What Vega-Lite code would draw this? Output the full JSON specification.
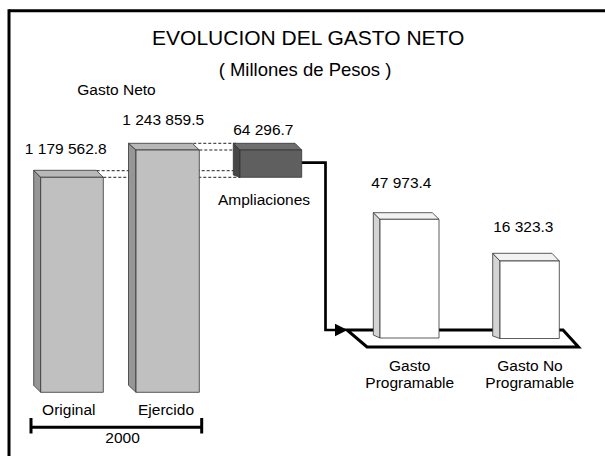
{
  "$schema": "https://vega.github.io/schema/vega-lite/v6.json",
  "width": 605,
  "height": 456,
  "padding": 0,
  "autosize": {"type": "none"},
  "background": "white",
  "config": {"view": {"stroke": null}, "font": "Liberation Sans", "text": {"font": "Liberation Sans"}},
  "resolve": {"scale": {"fill": "independent"}},
  "datasets": {
    "marco": [
      {"x": 9, "y": 10.8, "x2": 605, "y2": 10.8},
      {"x": 9, "y": 9.3, "x2": 9, "y2": 456}
    ],
    "guias": [
      {"x": 193.3, "x2": 236, "y": 143.3, "y2": 143.3},
      {"x": 199.3, "x2": 238, "y": 150, "y2": 150},
      {"x": 96.7, "x2": 236, "y": 170.7, "y2": 170.7},
      {"x": 103.3, "x2": 240, "y": 177.3, "y2": 177.3}
    ],
    "plataforma": [
      {"o": 1, "x": 347, "y": 330},
      {"o": 2, "x": 563, "y": 330},
      {"o": 3, "x": 578.5, "y": 347},
      {"o": 4, "x": 367, "y": 347},
      {"o": 5, "x": 347, "y": 330},
      {"o": 6, "x": 360, "y": 330}
    ],
    "conector": [
      {"o": 1, "x": 301.7, "y": 162.7},
      {"o": 2, "x": 325.5, "y": 162.7},
      {"o": 3, "x": 325.5, "y": 330},
      {"o": 4, "x": 338, "y": 330}
    ],
    "flecha": [
      {"x": 335, "y": 323.7, "y2": 336.3},
      {"x": 347.5, "y": 330, "y2": 330}
    ],
    "lados": [
      {"id": "Original", "tipo": "neto", "x": 33.7, "y": 170.3, "y2": 385.3},
      {"id": "Original", "tipo": "neto", "x": 40.7, "y": 177.3, "y2": 392.3},
      {"id": "Ejercido", "tipo": "neto", "x": 128.5, "y": 143.3, "y2": 385.3},
      {"id": "Ejercido", "tipo": "neto", "x": 136, "y": 150, "y2": 392.3},
      {"id": "Ampliaciones", "tipo": "ampl", "x": 233.3, "y": 143.3, "y2": 175},
      {"id": "Ampliaciones", "tipo": "ampl", "x": 240, "y": 150, "y2": 177.3},
      {"id": "Gasto Programable", "tipo": "comp", "x": 373.3, "y": 212.7, "y2": 335},
      {"id": "Gasto Programable", "tipo": "comp", "x": 380, "y": 219.3, "y2": 338},
      {"id": "Gasto No Programable", "tipo": "comp", "x": 492.7, "y": 253.3, "y2": 336},
      {"id": "Gasto No Programable", "tipo": "comp", "x": 500, "y": 261, "y2": 338.5}
    ],
    "tapas": [
      {"id": "Original", "tipo": "neto", "y": 170.3, "x": 33.7, "x2": 96.3},
      {"id": "Original", "tipo": "neto", "y": 177.3, "x": 40.7, "x2": 103.3},
      {"id": "Ejercido", "tipo": "neto", "y": 143.3, "x": 128.5, "x2": 192.3},
      {"id": "Ejercido", "tipo": "neto", "y": 150, "x": 136, "x2": 199.3},
      {"id": "Ampliaciones", "tipo": "ampl", "y": 143.3, "x": 233.3, "x2": 295},
      {"id": "Ampliaciones", "tipo": "ampl", "y": 150, "x": 240, "x2": 301.7},
      {"id": "Gasto Programable", "tipo": "comp", "y": 212.7, "x": 373.3, "x2": 432.3},
      {"id": "Gasto Programable", "tipo": "comp", "y": 219.3, "x": 380, "x2": 439},
      {"id": "Gasto No Programable", "tipo": "comp", "y": 253.3, "x": 492.7, "x2": 552},
      {"id": "Gasto No Programable", "tipo": "comp", "y": 261, "x": 500, "x2": 559.3}
    ],
    "frentes": [
      {"id": "Original", "tipo": "neto", "valor": 1179562.8, "x": 40.7, "x2": 103.3, "y": 177.3, "y2": 392.3},
      {"id": "Ejercido", "tipo": "neto", "valor": 1243859.5, "x": 136, "x2": 199.3, "y": 150, "y2": 392.3},
      {"id": "Ampliaciones", "tipo": "ampl", "valor": 64296.7, "x": 240, "x2": 301.7, "y": 150, "y2": 177.3},
      {"id": "Gasto Programable", "tipo": "comp", "valor": 47973.4, "x": 380, "x2": 439, "y": 219.3, "y2": 338},
      {"id": "Gasto No Programable", "tipo": "comp", "valor": 16323.3, "x": 500, "x2": 559.3, "y": 261, "y2": 338.5}
    ],
    "llave": [
      {"x": 31, "x2": 201.7, "y": 427.3, "y2": 427.3},
      {"x": 31, "x2": 31, "y": 418, "y2": 433.5},
      {"x": 201.7, "x2": 201.7, "y": 418, "y2": 433.5}
    ],
    "titulo": [{"t": "EVOLUCION DEL GASTO NETO", "x": 308.2, "y": 45}],
    "subtitulo": [{"t": "( Millones de Pesos )", "x": 305, "y": 76}],
    "etiquetas": [
      {"t": "Gasto Neto", "x": 116.5, "y": 95},
      {"t": "1 243 859.5", "x": 163.2, "y": 125},
      {"t": "64 296.7", "x": 263.3, "y": 135},
      {"t": "1 179 562.8", "x": 65.8, "y": 154},
      {"t": "47 973.4", "x": 401.3, "y": 188.3},
      {"t": "16 323.3", "x": 523.3, "y": 232.3},
      {"t": "Ampliaciones", "x": 264, "y": 205},
      {"t": "Original", "x": 68.8, "y": 415},
      {"t": "Ejercido", "x": 166, "y": 415},
      {"t": "2000", "x": 122.5, "y": 443.3},
      {"t": "Gasto", "x": 409.7, "y": 370.7},
      {"t": "Programable", "x": 409.7, "y": 388.3},
      {"t": "Gasto No", "x": 530, "y": 370.7},
      {"t": "Programable", "x": 529.7, "y": 388.3}
    ]
  },
  "layer": [
    {
      "data": {"name": "marco"},
      "mark": {"type": "rule", "color": "black", "strokeWidth": 3},
      "encoding": {
        "x": {"field": "x", "type": "quantitative", "scale": {"domain": [0, 605], "nice": false, "zero": false}, "axis": null},
        "y": {"field": "y", "type": "quantitative", "scale": {"domain": [0, 456], "nice": false, "zero": false, "reverse": true}, "axis": null},
        "x2": {"field": "x2"},
        "y2": {"field": "y2"}
      }
    },
    {
      "data": {"name": "guias"},
      "mark": {"type": "rule", "color": "#222222", "strokeWidth": 1, "strokeDash": [3, 2]},
      "encoding": {
        "x": {"field": "x", "type": "quantitative", "axis": null},
        "y": {"field": "y", "type": "quantitative", "axis": null},
        "x2": {"field": "x2"},
        "y2": {"field": "y2"}
      }
    },
    {
      "data": {"name": "plataforma"},
      "mark": {"type": "line", "color": "black", "strokeWidth": 3, "strokeJoin": "miter"},
      "encoding": {
        "x": {"field": "x", "type": "quantitative", "axis": null},
        "y": {"field": "y", "type": "quantitative", "axis": null},
        "order": {"field": "o", "type": "quantitative"}
      }
    },
    {
      "data": {"name": "conector"},
      "mark": {"type": "line", "color": "black", "strokeWidth": 2.7, "strokeJoin": "miter"},
      "encoding": {
        "x": {"field": "x", "type": "quantitative", "axis": null},
        "y": {"field": "y", "type": "quantitative", "axis": null},
        "order": {"field": "o", "type": "quantitative"}
      }
    },
    {
      "data": {"name": "flecha"},
      "mark": {"type": "area", "orient": "vertical", "color": "black"},
      "encoding": {
        "x": {"field": "x", "type": "quantitative", "axis": null},
        "y": {"field": "y", "type": "quantitative", "axis": null},
        "y2": {"field": "y2"}
      }
    },
    {
      "data": {"name": "lados"},
      "mark": {"type": "area", "orient": "vertical", "stroke": "#333333", "strokeWidth": 0.8, "fillOpacity": 1},
      "encoding": {
        "x": {"field": "x", "type": "quantitative", "axis": null},
        "y": {"field": "y", "type": "quantitative", "axis": null},
        "y2": {"field": "y2"},
        "detail": {"field": "id"},
        "fill": {"field": "tipo", "type": "nominal", "scale": {"domain": ["neto", "ampl", "comp"], "range": ["#969696", "#474747", "#d4d4d4"]}, "legend": null}
      }
    },
    {
      "data": {"name": "tapas"},
      "mark": {"type": "area", "orient": "horizontal", "stroke": "#333333", "strokeWidth": 0.8, "fillOpacity": 1},
      "encoding": {
        "y": {"field": "y", "type": "quantitative", "axis": null},
        "x": {"field": "x", "type": "quantitative", "axis": null},
        "x2": {"field": "x2"},
        "detail": {"field": "id"},
        "fill": {"field": "tipo", "type": "nominal", "scale": {"domain": ["neto", "ampl", "comp"], "range": ["#b8b8b8", "#6e6e6e", "#f2f2f2"]}, "legend": null}
      }
    },
    {
      "data": {"name": "frentes"},
      "mark": {"type": "rect", "stroke": "#333333", "strokeWidth": 0.8},
      "encoding": {
        "x": {"field": "x", "type": "quantitative", "axis": null},
        "x2": {"field": "x2"},
        "y": {"field": "y", "type": "quantitative", "axis": null},
        "y2": {"field": "y2"},
        "fill": {"field": "tipo", "type": "nominal", "scale": {"domain": ["neto", "ampl", "comp"], "range": ["#c0c0c0", "#5f5f5f", "#ffffff"]}, "legend": null},
        "tooltip": [{"field": "id"}, {"field": "valor", "type": "quantitative"}]
      }
    },
    {
      "data": {"name": "llave"},
      "mark": {"type": "rule", "color": "black", "strokeWidth": 3},
      "encoding": {
        "x": {"field": "x", "type": "quantitative", "axis": null},
        "y": {"field": "y", "type": "quantitative", "axis": null},
        "x2": {"field": "x2"},
        "y2": {"field": "y2"}
      }
    },
    {
      "data": {"name": "titulo"},
      "mark": {"type": "text", "fontSize": 21, "align": "center", "baseline": "alphabetic", "color": "black", "font": "Liberation Sans"},
      "encoding": {
        "x": {"field": "x", "type": "quantitative", "axis": null},
        "y": {"field": "y", "type": "quantitative", "axis": null},
        "text": {"field": "t"}
      }
    },
    {
      "data": {"name": "subtitulo"},
      "mark": {"type": "text", "fontSize": 18.5, "align": "center", "baseline": "alphabetic", "color": "black", "font": "Liberation Sans"},
      "encoding": {
        "x": {"field": "x", "type": "quantitative", "axis": null},
        "y": {"field": "y", "type": "quantitative", "axis": null},
        "text": {"field": "t"}
      }
    },
    {
      "data": {"name": "etiquetas"},
      "mark": {"type": "text", "fontSize": 15.5, "align": "center", "baseline": "alphabetic", "color": "black", "font": "Liberation Sans"},
      "encoding": {
        "x": {"field": "x", "type": "quantitative", "axis": null},
        "y": {"field": "y", "type": "quantitative", "axis": null},
        "text": {"field": "t"}
      }
    }
  ]
}
